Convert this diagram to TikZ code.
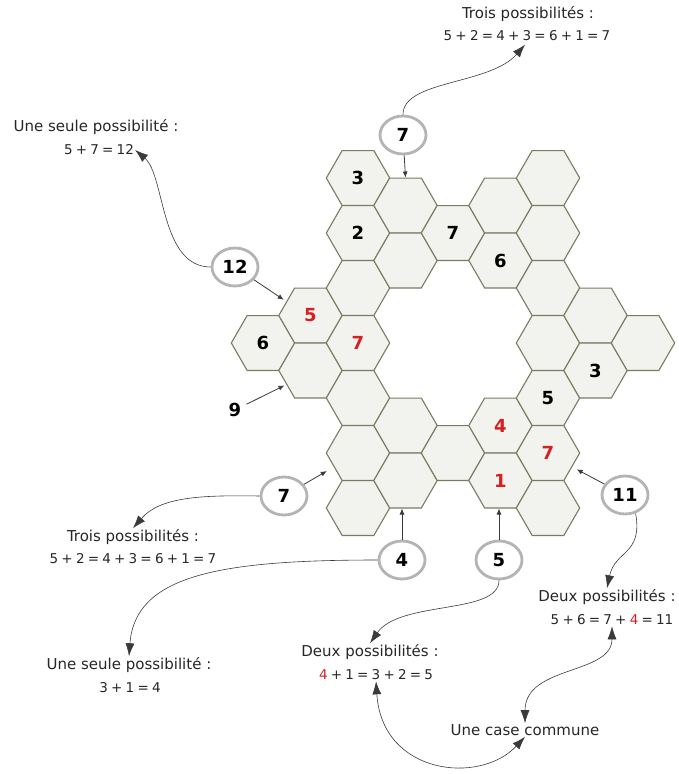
\documentclass[tikz,border=0pt]{standalone}
\usepackage{fontspec}
\setmainfont{DejaVu Sans}
\newfontfamily\sumfont[WordSpace=0.75]{DejaVu Sans}
\usepackage{tikz}
\usetikzlibrary{arrows.meta,shapes.geometric}

\definecolor{hexfill}{HTML}{F2F2EE}
\definecolor{hexline}{HTML}{7B7B62}
\definecolor{ringgray}{HTML}{B4B4B4}
\definecolor{numred}{HTML}{D42020}
\definecolor{linkgray}{HTML}{3A3A3A}

\tikzset{
  hexa/.style={regular polygon, regular polygon sides=6, minimum size=63.4pt,
    inner sep=0pt, draw=hexline, fill=hexfill, line width=1.1pt,
    font=\fontsize{18}{18}\selectfont\bfseries},
  ring/.style={ellipse, draw=ringgray, line width=2.8pt, fill=white,
    minimum width=46pt, minimum height=38pt, inner sep=0pt,
    font=\fontsize{18}{18}\selectfont\bfseries},
  note/.style={font=\fontsize{15}{15}\selectfont, text=black!85, inner sep=1pt},
  sum/.style={font=\sumfont\fontsize{13.5}{15}\selectfont, text=black!85, inner sep=1pt},
  pointer/.style={draw=linkgray, line width=0.8pt, -{Latex[length=6pt,width=5pt]}},
  curvy/.style={draw=linkgray, line width=0.6pt, -{Latex[length=13pt,width=9pt]}},
  twoway/.style={draw=linkgray, line width=0.6pt,
    {Latex[length=13pt,width=9pt]}-{Latex[length=13pt,width=9pt]}}
}

\begin{document}
\begin{tikzpicture}[x=1pt,y=-1pt]
    \useasboundingbox (0,0) rectangle (678,774);

    % cells: column / row / number / colour
    \foreach \c/\k/\lab/\col in {-2/6/6/black, -1/5/5/numred, -1/7//black,
        0/0/3/black, 0/2/2/black, 0/4//black, 0/6/7/numred, 0/8//black, 0/10//black, 0/12//black,
        1/1//black, 1/3//black, 1/9//black, 1/11//black,
        2/2/7/black, 2/10//black,
        3/1//black, 3/3/6/black, 3/9/4/numred, 3/11/1/numred,
        4/0//black, 4/2//black, 4/4//black, 4/6//black, 4/8/5/black, 4/10/7/numred, 4/12//black,
        5/5//black, 5/7/3/black,
        6/6//black}
      \node[hexa, text=\col] (h\c-\k) at ({358+47.5*\c},{178+27.5*\k}) {\lab};

    % sums
    \node[ring] (top7) at (403,135) {7};
    \node[ring] (c12) at (235,267) {12};
    \node[font=\fontsize{18}{18}\selectfont\bfseries] (n9) at (235,410) {9};
    \node[ring] (c7) at (284,496) {7};
    \node[ring] (c4) at (402,560) {4};
    \node[ring] (c5) at (499,560) {5};
    \node[ring] (c11) at (625,495) {11};

    \draw[pointer] (top7) -- (h1-1.north);
    \draw[pointer, shorten >=3pt] (c12) -- (h-1-5.150);
    \draw[pointer, shorten <=2pt, shorten >=2pt] (n9) -- (h-1-7.-150);
    \draw[pointer, shorten >=8pt] (c7) -- (h0-10.-150);
    \draw[pointer] (c4) -- (c4 |- h1-11.south);
    \draw[pointer] (c5) -- (c5 |- h3-11.south);
    \draw[pointer, shorten >=5pt] (c11) -- (h4-10.-30);

    % explanations
    \node[note] (p7a) at (528,14) {Trois possibilités :};
    \node[sum] (e7a) at (527,36) {5 + 2 = 4 + 3 = 6 + 1 = 7};
    \node[note] (p12) at (96,127) {Une seule possibilité :};
    \node[sum] (e12) at (99,150) {5 + 7 = 12};
    \node[note] (p7b) at (133,537) {Trois possibilités :};
    \node[sum] (e7b) at (133,559) {5 + 2 = 4 + 3 = 6 + 1 = 7};
    \node[note] (p4) at (129,665) {Une seule possibilité :};
    \node[sum] (e4) at (130,688) {3 + 1 = 4};
    \node[note] (p5) at (370,652) {Deux possibilités :};
    \node[sum] (e5) at (376,675) {{\color{numred}4} + 1 = 3 + 2 = 5};
    \node[note] (p11) at (607,597) {Deux possibilités :};
    \node[sum] (e11) at (612,620) {5 + 6 = 7 + {\color{numred}4} = 11};
    \node[note] (cc) at (525,730) {Une case commune};

    \draw[curvy, shorten >=3pt] (top7.north) .. controls (403,80) and (490,85) .. (e7a.south);
    \draw[curvy] (c12.west) .. controls (160,267) and (165,175) .. (e12.east);
    \draw[curvy] (c7.west) .. controls (200,495) and (160,497) .. (p7b.north);
    \draw[curvy] (c4.west) .. controls (220,560) and (135,575) .. (p4.north);
    \draw[curvy] (c5.south) .. controls (499,615) and (400,600) .. (p5.north);
    \draw[curvy] (c11.-60) .. controls (643,555) and (615,550) .. (p11.north);
    \draw[twoway] (e11.south) .. controls (612,675) and (525,665) .. (cc.north);
    \draw[twoway] (e5.south) .. controls (382,775) and (480,785) .. (cc.south);
\end{tikzpicture}
\end{document}
